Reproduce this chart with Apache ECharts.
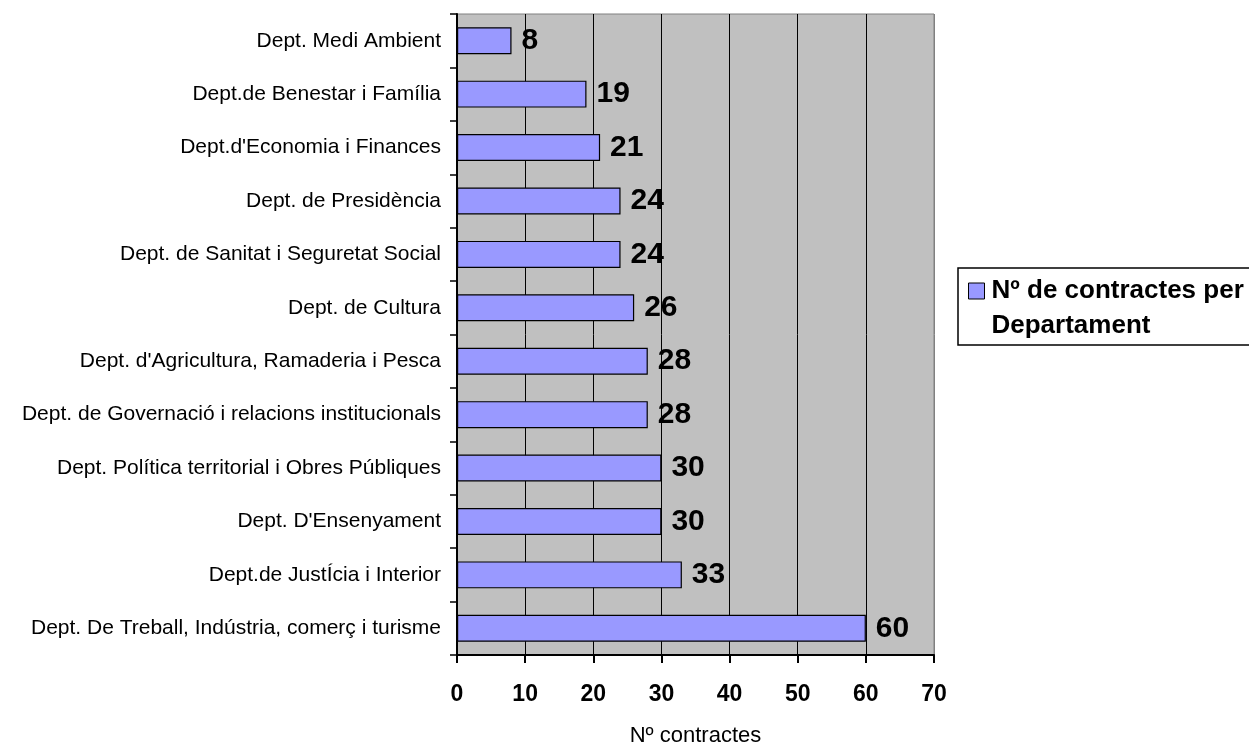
<!DOCTYPE html>
<html>
<head>
<meta charset="utf-8">
<script src="https://cdn.jsdelivr.net/npm/echarts@6/dist/echarts.min.js"></script>
<style>
  html, body { margin: 0; padding: 0; background: #fff; }
  #chart { width: 1249px; height: 745px; }
</style>
</head>
<body>
<div id="chart"></div>
<script>
// Departments, listed top to bottom
const departments = [
  'Dept. Medi Ambient',
  'Dept.de Benestar i Família',
  "Dept.d'Economia i Finances",
  'Dept. de Presidència',
  'Dept. de Sanitat i Seguretat Social',
  'Dept. de Cultura',
  "Dept. d'Agricultura, Ramaderia i Pesca",
  'Dept. de Governació i relacions institucionals',
  'Dept. Política territorial i Obres Públiques',
  "Dept. D'Ensenyament",
  'Dept.de JustÍcia i Interior',
  'Dept. De Treball, Indústria, comerç i turisme'
];
// Number of contracts per department
const contracts = [8, 19, 21, 24, 24, 26, 28, 28, 30, 30, 33, 60];

const seriesName = 'Nº de contractes per Departament';
const legendLines = ['Nº de contractes per', 'Departament'];
const axisName = 'Nº contractes';
const FONT = '"Liberation Sans", Arial, sans-serif';

const chart = echarts.init(document.getElementById('chart'));
chart.setOption({
  animation: false,
  textStyle: { fontFamily: FONT },
  grid: {
    left: 457, top: 14, right: 315, bottom: 90,
    outerBoundsMode: 'none',
    show: true,
    backgroundColor: '#C0C0C0',
    borderColor: '#808080',
    borderWidth: 1
  },
  // legend frame (runs past the right edge of the canvas)
  graphic: [{
    type: 'rect',
    z: 0,
    shape: { x: 958, y: 268, width: 320, height: 77 },
    style: { fill: '#fff', stroke: '#000', lineWidth: 1.5 }
  }],
  legend: {
    left: 963,
    top: 238,
    padding: 5,
    icon: 'rect',
    itemWidth: 16,
    itemHeight: 16,
    z: 5,
    itemStyle: { borderColor: '#000', borderWidth: 1 },
    // an empty first row keeps the square beside the first text line
    formatter: () => '{s| }\n{a|' + legendLines[0] + '}\n{a|' + legendLines[1] + '}',
    textStyle: {
      fontFamily: FONT,
      fontSize: 26,
      fontWeight: 'bold',
      color: '#000',
      rich: {
        s: { fontSize: 26, lineHeight: 35 },
        a: { fontFamily: FONT, fontSize: 26, fontWeight: 'bold', color: '#000', lineHeight: 35, padding: [0, 0, 0, 2] }
      }
    },
    data: [seriesName]
  },
  xAxis: {
    type: 'value',
    min: 0,
    max: 70,
    interval: 10,
    name: axisName,
    nameLocation: 'middle',
    nameGap: 70,
    nameTextStyle: { fontFamily: FONT, fontSize: 22, color: '#000' },
    axisLine: { show: true, lineStyle: { color: '#000', width: 2 } },
    axisTick: { show: true, length: 8, lineStyle: { color: '#000', width: 2 } },
    axisLabel: {
      margin: 28,
      fontFamily: FONT,
      fontSize: 23,
      fontWeight: 'bold',
      color: '#000'
    },
    splitLine: {
      show: true,
      lineStyle: {
        color: ['#000', '#000', '#000', '#000', '#000', '#000', '#000', '#808080'],
        width: 1
      }
    }
  },
  yAxis: {
    type: 'category',
    inverse: true,
    data: departments,
    axisLine: { show: true, lineStyle: { color: '#000', width: 2 } },
    axisTick: { show: true, length: 7, lineStyle: { color: '#000', width: 1.5 } },
    axisLabel: {
      margin: 16,
      fontFamily: FONT,
      fontSize: 21,
      color: '#000'
    },
    splitLine: { show: false }
  },
  series: [{
    name: seriesName,
    type: 'bar',
    data: contracts,
    barWidth: 27,
    itemStyle: { color: '#9999FF', borderColor: '#000', borderWidth: 1.2 },
    label: {
      show: true,
      position: 'right',
      distance: 10,
      fontFamily: FONT,
      fontSize: 30,
      fontWeight: 'bold',
      color: '#000'
    }
  }]
});
</script>
</body>
</html>
